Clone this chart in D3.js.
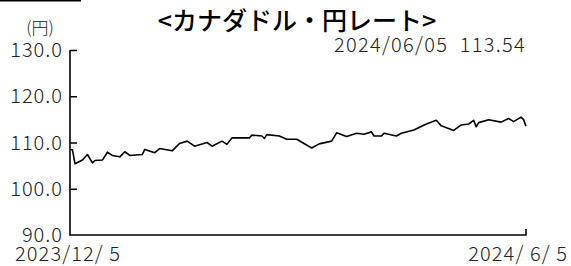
<!DOCTYPE html>
<html>
<head>
<meta charset="utf-8">
<script src="https://cdn.jsdelivr.net/npm/d3@7"></script>
<style>
  body { margin: 0; background: #fff; }
  svg { display: block; font-family: "Noto Sans CJK JP", "Noto Sans", sans-serif; }
  text { white-space: pre; }
</style>
</head>
<body>
<svg id="chart" width="571" height="266"></svg>
<script>
// CAD/JPY rate
var dates = [
  "2023-12-05","2023-12-06","2023-12-07","2023-12-10","2023-12-12","2023-12-14","2023-12-15",
  "2023-12-18","2023-12-20","2023-12-22","2023-12-25","2023-12-27","2023-12-29",
  "2024-01-03","2024-01-04","2024-01-08","2024-01-10","2024-01-15","2024-01-18","2024-01-21",
  "2024-01-24","2024-01-29","2024-01-31","2024-02-04","2024-02-06","2024-02-08","2024-02-15",
  "2024-02-16","2024-02-20","2024-02-21","2024-02-22","2024-02-27","2024-03-01","2024-03-05",
  "2024-03-11","2024-03-14","2024-03-19","2024-03-21","2024-03-25","2024-03-29","2024-04-01",
  "2024-04-04","2024-04-05","2024-04-08","2024-04-09","2024-04-14","2024-04-16","2024-04-21",
  "2024-04-26","2024-04-30","2024-05-02","2024-05-07","2024-05-10","2024-05-13","2024-05-15",
  "2024-05-16","2024-05-17","2024-05-21","2024-05-26","2024-05-29","2024-05-31","2024-06-03",
  "2024-06-04","2024-06-05"
];
var rates = [
  108.5,108.4,105.4,106.2,107.4,105.6,106.1,
  106.2,107.9,107.2,106.9,108.0,107.2,
  107.4,108.5,107.8,108.7,108.2,109.8,110.3,
  109.2,110.0,109.2,110.3,109.6,111.0,111.0,
  111.6,111.4,110.9,111.7,111.4,110.7,110.7,
  108.8,109.7,110.3,112.1,111.3,112.0,111.8,
  112.3,111.4,111.4,112.0,111.4,112.0,112.7,
  114.0,114.8,113.6,112.6,113.8,114.0,114.8,
  113.4,114.3,114.9,114.4,115.2,114.5,115.5,
  115.0,113.54
];
var yTicks = [90, 100, 110, 120, 130];
var xLabels = ["2023/12/ 5", "2024/ 6/ 5"];
var title = "<カナダドル・円レート>";
var latest = "2024/06/05  113.54";
var unit = "(円)";

var svg = d3.select("#chart");
var parse = d3.timeParse("%Y-%m-%d");
var data = dates.map(function(d, i) { return {date: parse(d), rate: rates[i]}; });

var x = d3.scaleTime()
  .domain([parse("2023-12-05"), parse("2024-06-05")])
  .range([70, 526]);
var y = d3.scaleLinear()
  .domain([90, 130])
  .range([235, 50]);

// small bar at the top-left corner
svg.append("line")
  .attr("x1", 0).attr("x2", 81).attr("y1", 0.75).attr("y2", 0.75)
  .attr("stroke", "#000").attr("stroke-width", 1.5);

// title and latest value
svg.append("text")
  .attr("x", 297).attr("y", 30)
  .attr("text-anchor", "middle")
  .attr("font-size", 25).attr("font-weight", 500)
  .attr("fill", "#000")
  .text(title);
svg.append("text")
  .attr("x", 526).attr("y", 52)
  .attr("text-anchor", "end")
  .attr("font-size", 20).attr("font-weight", 300)
  .attr("letter-spacing", 1.3)
  .attr("fill", "#222")
  .text(latest);

svg.append("text")
  .attr("x", 40).attr("y", 34)
  .attr("text-anchor", "middle")
  .attr("font-size", 17).attr("font-weight", 300)
  .attr("fill", "#222")
  .text(unit);

// y axis: ticks point inward
var yAxis = d3.axisRight(y)
  .tickValues(yTicks)
  .tickSize(7)
  .tickFormat(d3.format(".1f"));
var gy = svg.append("g")
  .attr("transform", "translate(70,0)")
  .call(yAxis);
gy.select(".domain").remove();
gy.selectAll(".tick line").attr("stroke", "#000").attr("stroke-width", 1.5)
  .filter(function(d) { return d === 90; }).remove();
gy.selectAll(".tick text")
  .attr("text-anchor", "end")
  .attr("x", -7)
  .attr("dy", "0.33em")
  .attr("font-size", 20)
  .attr("font-weight", 300)
  .attr("letter-spacing", 1)
  .attr("font-family", "Noto Sans CJK JP, sans-serif")
  .attr("fill", "#222");

// axis lines
svg.append("path")
  .attr("d", d3.line()([[70, y(130)], [70, y(90)], [x.range()[1], y(90)], [x.range()[1], y(90) - 6]]))
  .attr("fill", "none").attr("stroke", "#000").attr("stroke-width", 1.6);

// x labels
svg.append("text")
  .attr("x", 15).attr("y", 261)
  .attr("font-size", 20).attr("font-weight", 300).attr("fill", "#222")
  .attr("letter-spacing", 1.1)
  .text(xLabels[0]);
svg.append("text")
  .attr("x", 568).attr("y", 261)
  .attr("text-anchor", "end")
  .attr("font-size", 20).attr("font-weight", 300).attr("fill", "#222")
  .attr("letter-spacing", 1.1)
  .text(xLabels[1]);

// rate line
svg.append("path")
  .datum(data)
  .attr("fill", "none")
  .attr("stroke", "#000")
  .attr("stroke-width", 1.6)
  .attr("stroke-linejoin", "round")
  .attr("d", d3.line()
    .x(function(d) { return x(d.date); })
    .y(function(d) { return y(d.rate); }));
</script>
</body>
</html>
